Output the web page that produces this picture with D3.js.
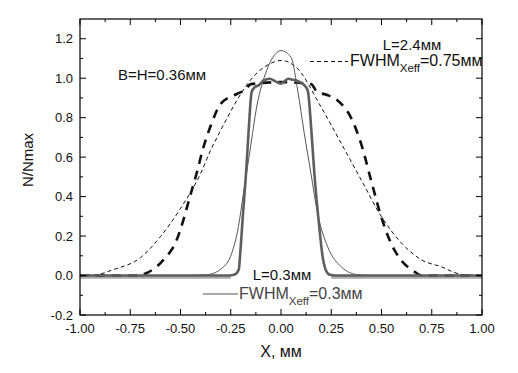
<!DOCTYPE html>
<html>
<head>
<meta charset="utf-8">
<script src="https://cdn.jsdelivr.net/npm/d3@7"></script>
<style>
  body { margin: 0; background: #fff; }
  text { font-family: "Liberation Sans", Arial, sans-serif; fill: #111; }
</style>
</head>
<body>
<svg id="chart" width="518" height="373"></svg>
<script>
// L=2.4 mm, thin dashed (FWHM 0.75)
var wideX = [-1.0, -0.92, -0.834, -0.7, -0.6, -0.5, -0.4, -0.35, -0.3, -0.2, -0.154, -0.055, 0, 0.075, 0.2, 0.3, 0.4, 0.5, 0.6, 0.7, 0.796, 0.896, 1.0]
var wideY = [0.0, 0.004, 0.03, 0.09, 0.197, 0.34, 0.517, 0.635, 0.736, 0.92, 0.988, 1.073, 1.09, 1.056, 0.853, 0.669, 0.483, 0.298, 0.164, 0.079, 0.045, 0.006, 0.0]
// L=2.4 mm, bold dashed
var boldX = [-1.0, -0.71, -0.668, -0.585, -0.519, -0.486, -0.453, -0.42, -0.386, -0.353, -0.3, -0.22, -0.18, -0.15, 0, 0.15, 0.18, 0.23, 0.282, 0.348, 0.398, 0.448, 0.498, 0.547, 0.597, 0.663, 0.7, 1.0]
var boldY = [0.0, 0.0, 0.013, 0.079, 0.18, 0.28, 0.4, 0.517, 0.65, 0.75, 0.87, 0.92, 0.94, 0.97, 0.98, 0.97, 0.93, 0.915, 0.887, 0.8, 0.67, 0.483, 0.3, 0.164, 0.079, 0.02, 0.0, 0.0]
// L=0.3 mm, thick grey (flat top)
var flatX = [-1.0, -0.26, -0.23, -0.21, -0.204, -0.19, -0.174, -0.16, -0.146, -0.13, -0.11, -0.088, -0.055, -0.03, 0, 0.036, 0.06, 0.078, 0.11, 0.133, 0.15, 0.166, 0.19, 0.207, 0.222, 0.24, 0.27, 1.0]
var flatY = [0.0, 0.0, 0.005, 0.03, 0.096, 0.3, 0.517, 0.75, 0.93, 0.955, 0.965, 0.988, 0.997, 0.985, 0.972, 0.997, 0.992, 0.988, 0.97, 0.938, 0.75, 0.517, 0.25, 0.096, 0.03, 0.005, 0.0, 0.0]
// L=0.3 mm, thin solid (FWHM 0.3)
var peakX = [-1.0, -0.45, -0.368, -0.294, -0.245, -0.212, -0.187, -0.154, -0.121, -0.071, -0.03, 0, 0.05, 0.083, 0.116, 0.149, 0.182, 0.232, 0.299, 0.381, 0.45, 1.0]
var peakY = [0.0, 0.0, 0.004, 0.037, 0.113, 0.247, 0.416, 0.635, 0.854, 1.04, 1.12, 1.14, 1.106, 0.938, 0.719, 0.517, 0.315, 0.146, 0.045, 0.004, 0.0, 0.0]
// light grey baseline under zero
var baseX = [[-1.0, -0.25], [0.25, 1.0]]
var baseY = -0.01

var xTicks = [-1.0, -0.75, -0.5, -0.25, 0, 0.25, 0.5, 0.75, 1.0]
var yTicks = [-0.2, 0.0, 0.2, 0.4, 0.6, 0.8, 1.0, 1.2]

var svg = d3.select('#chart')
var pL = 80, pR = 482, pT = 19, pB = 315

var x = d3.scaleLinear().domain([-1, 1]).range([pL, pR])
var y = d3.scaleLinear().domain([-0.2, 1.3]).range([pB, pT])

var line = d3.line().x(function(d){ return x(d[0]) }).y(function(d){ return y(d[1]) }).curve(d3.curveMonotoneX)
function zip(a, b){ return a.map(function(v, i){ return [v, b[i]] }) }

var loc = d3.formatLocale({decimal: '.', thousands: ',', grouping: [3], currency: ['', ''], minus: '-'})

var g = svg.append('g')

baseX.forEach(function(seg){
  g.append('path').attr('d', line([[seg[0], baseY], [seg[1], baseY]]))
    .attr('fill', 'none').attr('stroke', '#aaa').attr('stroke-width', 2.5)
})

g.append('path').attr('d', line(zip(wideX, wideY)))
  .attr('fill', 'none').attr('stroke', '#111').attr('stroke-width', 1)
  .attr('stroke-dasharray', '4,3')

g.append('path').attr('d', line(zip(boldX, boldY)))
  .attr('fill', 'none').attr('stroke', '#111').attr('stroke-width', 2.6)
  .attr('stroke-dasharray', '9,7')

g.append('path').attr('d', line(zip(peakX, peakY)))
  .attr('fill', 'none').attr('stroke', '#555').attr('stroke-width', 1)

g.append('path').attr('d', line(zip(flatX, flatY)))
  .attr('fill', 'none').attr('stroke', '#5e5e5e').attr('stroke-width', 2.6)

// frame and ticks (inward on all four sides)
svg.append('rect').attr('x', pL).attr('y', pT).attr('width', pR - pL).attr('height', pB - pT)
  .attr('fill', 'none').attr('stroke', '#000').attr('stroke-width', 1.2)

var xMinor = d3.range(-0.875, 1, 0.25)
var yMinor = d3.range(-0.1, 1.3, 0.2)

function tickX(vals, len){
  vals.forEach(function(v){
    svg.append('line').attr('x1', x(v)).attr('x2', x(v)).attr('y1', pB).attr('y2', pB - len).attr('stroke', '#000')
    svg.append('line').attr('x1', x(v)).attr('x2', x(v)).attr('y1', pT).attr('y2', pT + len).attr('stroke', '#000')
  })
}
function tickY(vals, len){
  vals.forEach(function(v){
    svg.append('line').attr('y1', y(v)).attr('y2', y(v)).attr('x1', pL).attr('x2', pL + len).attr('stroke', '#000')
    svg.append('line').attr('y1', y(v)).attr('y2', y(v)).attr('x1', pR).attr('x2', pR - len).attr('stroke', '#000')
  })
}
tickX(xTicks, 6); tickX(xMinor, 3)
tickY(yTicks, 6); tickY(yMinor, 3)

svg.selectAll('text.xt').data(xTicks).enter().append('text')
  .attr('x', function(d){ return x(d) }).attr('y', 333)
  .attr('text-anchor', 'middle').style('font-size', '13px')
  .text(function(d){ return loc.format('.2f')(d) })

svg.selectAll('text.yt').data(yTicks).enter().append('text')
  .attr('x', 73).attr('y', function(d){ return y(d) + 4.6 })
  .attr('text-anchor', 'end').style('font-size', '13px')
  .text(function(d){ return loc.format('.1f')(d) })

svg.append('text').attr('x', 281).attr('y', 357).attr('text-anchor', 'middle')
  .style('font-size', '16px').text('X, мм')
svg.append('text').attr('transform', 'translate(33,160) rotate(-90)').attr('text-anchor', 'middle')
  .style('font-size', '15px').text('N/Nmax')

svg.append('text').attr('x', 118).attr('y', 80).style('font-size', '15px').text('B=H=0.36мм')

// legend top
svg.append('text').attr('x', 412).attr('y', 50).attr('text-anchor', 'middle').style('font-size', '15px').text('L=2.4мм')
svg.append('line').attr('x1', 310).attr('x2', 348).attr('y1', 61.5).attr('y2', 61.5)
  .attr('stroke', '#111').attr('stroke-dasharray', '4,3')
var t1 = svg.append('text').attr('x', 350).attr('y', 66).style('font-size', '16px')
t1.append('tspan').text('FWHM')
t1.append('tspan').attr('dy', 6).style('font-size', '11.5px').text('Xeff')
t1.append('tspan').attr('dy', -6).text('=0.75мм')

// legend bottom
svg.append('text').attr('x', 282).attr('y', 280).attr('text-anchor', 'middle').style('font-size', '15px').text('L=0.3мм')
svg.append('line').attr('x1', 203).attr('x2', 238).attr('y1', 294).attr('y2', 294)
  .attr('stroke', '#555')
var t2 = svg.append('text').attr('x', 239).attr('y', 299).style('font-size', '16px').style('fill', '#444')
t2.append('tspan').text('FWHM')
t2.append('tspan').attr('dy', 6).style('font-size', '11.5px').text('Xeff')
t2.append('tspan').attr('dy', -6).text('=0.3мм')
</script>
</body>
</html>
